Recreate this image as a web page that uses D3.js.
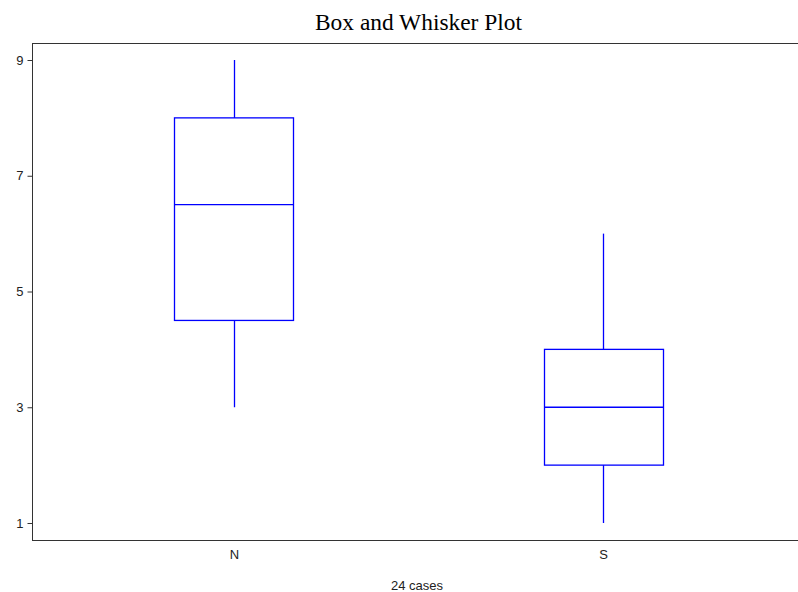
<!DOCTYPE html>
<html>
<head>
<meta charset="utf-8">
<script src="https://cdn.jsdelivr.net/npm/d3@7"></script>
<style>
  html, body { margin: 0; padding: 0; background: #fff; }
  svg { display: block; }
</style>
</head>
<body>
<script>
// Groups and their five-number summaries
const groups = ["N", "S"];
const whiskerLow = [3, 1];
const q1 = [4.5, 2];
const median = [6.5, 3];
const q3 = [8, 4];
const whiskerHigh = [9, 6];
const yTicks = [1, 3, 5, 7, 9];
const caseCount = 24;

const W = 798, H = 592;
const margin = { left: 32, top: 43, bottom: 540, right: 805 };
const labelFont = "Liberation Sans, Arial, sans-serif";

const svg = d3.select("body").append("svg")
  .attr("width", W).attr("height", H);

const x = d3.scalePoint()
  .domain(groups)
  .range([margin.left, margin.right])
  .padding(0.547);

const y = d3.scaleLinear()
  .domain([1, 9])
  .range([523, 60]);

const boxW = 119;

// Title
svg.append("text")
  .attr("x", 315).attr("y", 30)
  .attr("textLength", 207)
  .attr("lengthAdjust", "spacingAndGlyphs")
  .attr("font-family", "Liberation Serif, Times New Roman, serif")
  .attr("font-size", 24)
  .attr("fill", "#000")
  .text("Box and Whisker Plot");

// Top edge of the plot frame
svg.append("line")
  .attr("x1", margin.left).attr("x2", W)
  .attr("y1", margin.top + 0.5).attr("y2", margin.top + 0.5)
  .attr("stroke", "#333");

// Y axis
const yAxis = d3.axisLeft(y).tickValues(yTicks).tickSize(5).tickPadding(4);
const gy = svg.append("g")
  .attr("transform", `translate(${margin.left + 0.5},0)`)
  .call(yAxis);
gy.select(".domain").attr("d", `M0,${margin.top}V${margin.bottom}`).attr("stroke", "#333");
gy.selectAll(".tick line").attr("stroke", "#333");
gy.selectAll(".tick text")
  .attr("font-family", labelFont)
  .attr("font-size", 13).attr("fill", "#222");

// X axis
const xAxis = d3.axisBottom(x).tickSize(0).tickPadding(9);
const gx = svg.append("g")
  .attr("transform", `translate(0,${margin.bottom + 0.5})`)
  .call(xAxis);
gx.select(".domain").attr("d", `M${margin.left},0H${W}`).attr("stroke", "#333");
gx.selectAll(".tick text")
  .attr("font-family", labelFont)
  .attr("font-size", 13).attr("fill", "#222");

// Boxes and whiskers
const data = groups.map((g, i) => ({
  g, lo: whiskerLow[i], q1: q1[i], med: median[i], q3: q3[i], hi: whiskerHigh[i]
}));

const box = svg.append("g")
  .attr("stroke", "#0000ff").attr("stroke-width", 1.3).attr("fill", "none");

const gb = box.selectAll("g").data(data).join("g");
const cx = d => Math.round(x(d.g)) + 0.5;
const left = d => Math.round(x(d.g) - boxW / 2) + 0.5;

gb.append("line")
  .attr("x1", cx).attr("x2", cx)
  .attr("y1", d => y(d.hi)).attr("y2", d => y(d.q3));
gb.append("line")
  .attr("x1", cx).attr("x2", cx)
  .attr("y1", d => y(d.q1)).attr("y2", d => y(d.lo));
gb.append("rect")
  .attr("x", left)
  .attr("width", boxW)
  .attr("y", d => y(d.q3))
  .attr("height", d => y(d.q1) - y(d.q3));
gb.append("line")
  .attr("x1", left)
  .attr("x2", d => left(d) + boxW)
  .attr("y1", d => y(d.med)).attr("y2", d => y(d.med));

// Case count caption
svg.append("text")
  .attr("x", 417).attr("y", 590)
  .attr("text-anchor", "middle")
  .attr("font-family", labelFont)
  .attr("font-size", 13).attr("fill", "#222")
  .text(`${caseCount} cases`);
</script>
</body>
</html>
